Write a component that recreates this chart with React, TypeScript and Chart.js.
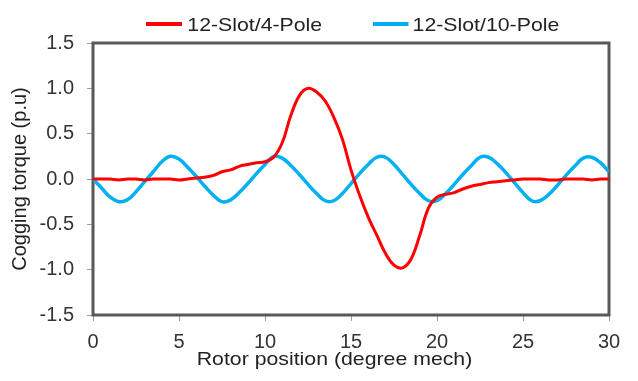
import React, { useEffect, useRef } from "react";
import { Chart, registerables } from "chart.js";

Chart.register(...registerables);

const positions = [
  0, 0.5, 1, 1.5, 2, 2.5, 3, 3.5, 4, 4.5, 5, 5.5, 6, 6.5, 7, 7.5, 8, 8.5, 9, 9.5,
  10, 10.5, 11, 11.5, 12, 12.5, 13, 13.5, 14, 14.5, 15, 15.5, 16, 16.5, 17, 17.5,
  18, 18.5, 19, 19.5, 20, 20.5, 21, 21.5, 22, 22.5, 23, 23.5, 24, 24.5, 25, 25.5,
  26, 26.5, 27, 27.5, 28, 28.5, 29, 29.5, 30,
];

const slot12pole4 = [
  0.0, 0.0, 0.0, -0.01, 0.0, 0.0, -0.01, 0.0, 0.0, 0.0, -0.01, 0.0, 0.01, 0.02,
  0.04, 0.08, 0.1, 0.14, 0.16, 0.18, 0.19, 0.24, 0.4, 0.7, 0.92, 1.0, 0.96, 0.86,
  0.68, 0.44, 0.1, -0.18, -0.42, -0.62, -0.82, -0.95, -0.98, -0.88, -0.62, -0.32,
  -0.2, -0.17, -0.15, -0.11, -0.08, -0.06, -0.04, -0.03, -0.02, -0.01, 0.0, 0.0,
  0.0, -0.01, -0.01, 0.0, 0.0, 0.0, -0.01, 0.0, 0.0,
];

const slot12pole10 = [
  0.0, -0.1, -0.2, -0.25, -0.23, -0.14, -0.03, 0.08, 0.19, 0.25, 0.22, 0.13, 0.03,
  -0.08, -0.18, -0.25, -0.23, -0.15, -0.05, 0.06, 0.16, 0.25, 0.23, 0.15, 0.05,
  -0.06, -0.16, -0.24, -0.24, -0.16, -0.05, 0.06, 0.16, 0.24, 0.24, 0.16, 0.05,
  -0.06, -0.16, -0.24, -0.24, -0.16, -0.06, 0.05, 0.15, 0.24, 0.24, 0.17, 0.07,
  -0.04, -0.15, -0.24, -0.24, -0.17, -0.07, 0.04, 0.14, 0.23, 0.24, 0.18, 0.08,
];

const seriesNames = ["12-Slot/4-Pole", "12-Slot/10-Pole"];
const seriesColors = ["#FF0000", "#00B0F0"];
const xTitle = "Rotor position (degree mech)";
const yTitle = "Cogging torque (p.u)";

const FONT = "Arial, 'Liberation Sans', sans-serif";

const framePlugin = {
  id: "frame",
  beforeDatasetsDraw(chart: any) {
    const { ctx, chartArea } = chart;
    ctx.save();
    ctx.strokeStyle = "#595959";
    ctx.lineWidth = 3;
    ctx.strokeRect(
      chartArea.left,
      chartArea.top,
      chartArea.right - chartArea.left,
      chartArea.bottom - chartArea.top
    );
    ctx.restore();
  },
};

const STRETCH = 1.12;

const legendAndTitlePlugin = {
  id: "legendAndTitle",
  afterDraw(chart: any) {
    const { ctx, chartArea } = chart;
    ctx.save();
    // legend
    const items = [
      { x0: 138, x1: 174, tx: 179.3 },
      { x0: 365, x1: 400.5, tx: 404.6 },
    ];
    ctx.font = `19px ${FONT}`;
    ctx.textBaseline = "alphabetic";
    ctx.textAlign = "left";
    chart.data.datasets.forEach((ds: any, i: number) => {
      const it = items[i];
      ctx.strokeStyle = ds.borderColor;
      ctx.lineWidth = 4;
      ctx.beginPath();
      ctx.moveTo(it.x0, 16);
      ctx.lineTo(it.x1, 16);
      ctx.stroke();
      ctx.fillStyle = "#222";
      ctx.save();
      ctx.translate(it.tx, 22.7);
      ctx.scale(STRETCH, 1);
      ctx.fillText(ds.label, 0, 0);
      ctx.restore();
    });
    // x axis title
    ctx.font = `19px ${FONT}`;
    ctx.textAlign = "center";
    ctx.fillStyle = "#222";
    const cx = (chartArea.left + chartArea.right) / 2 - 16.5;
    ctx.save();
    ctx.translate(cx, 357);
    ctx.scale(STRETCH, 1);
    ctx.fillText(xTitle, 0, 0);
    ctx.restore();
    ctx.restore();
  },
};

export default function App() {
  const ref = useRef<HTMLCanvasElement>(null);
  useEffect(() => {
    if (!ref.current) return;
    const chart = new Chart(ref.current, {
      type: "line",
      data: {
        datasets: [
          {
            label: seriesNames[0],
            data: positions.map((x, i) => ({ x, y: slot12pole4[i] })),
            borderColor: seriesColors[0],
            backgroundColor: seriesColors[0],
            borderWidth: 3,
            pointRadius: 0,
            tension: 0.4,
          },
          {
            label: seriesNames[1],
            data: positions.map((x, i) => ({ x, y: slot12pole10[i] })),
            borderColor: seriesColors[1],
            backgroundColor: seriesColors[1],
            borderWidth: 3.5,
            pointRadius: 0,
            tension: 0.4,
          },
        ],
      },
      options: {
        responsive: false,
        animation: false,
        layout: { padding: { top: 35, right: 21, left: 0, bottom: 0 } },
        plugins: {
          legend: { display: false },
          tooltip: { enabled: false },
        },
        scales: {
          x: {
            type: "linear",
            min: 0,
            max: 30,
            afterFit: (s: any) => {
              s.height = 66;
            },
            ticks: {
              stepSize: 5,
              padding: 9,
              color: "#333",
              font: { family: FONT, size: 20 },
            },
            grid: {
              drawOnChartArea: false,
              drawTicks: true,
              tickLength: 6,
              color: "#9a9a9a",
            },
            border: { display: false },
          },
          y: {
            min: -1.5,
            max: 1.5,
            afterFit: (s: any) => {
              s.width = 85;
            },
            ticks: {
              stepSize: 0.5,
              padding: 13,
              color: "#333",
              font: { family: FONT, size: 20 },
              callback: (v: any) => Number(v).toFixed(1),
            },
            grid: {
              drawOnChartArea: false,
              drawTicks: true,
              tickLength: 6,
              color: "#9a9a9a",
            },
            border: { display: false },
            title: {
              display: true,
              text: yTitle,
              color: "#222",
              padding: 0,
              font: { family: FONT, size: 20 },
            },
          },
        },
      },
      plugins: [framePlugin, legendAndTitlePlugin],
    } as any);
    return () => chart.destroy();
  }, []);
  return (
    <div style={{ width: 622, height: 365 }}>
      <canvas ref={ref} width={622} height={373} style={{ display: "block" }} />
    </div>
  );
}
